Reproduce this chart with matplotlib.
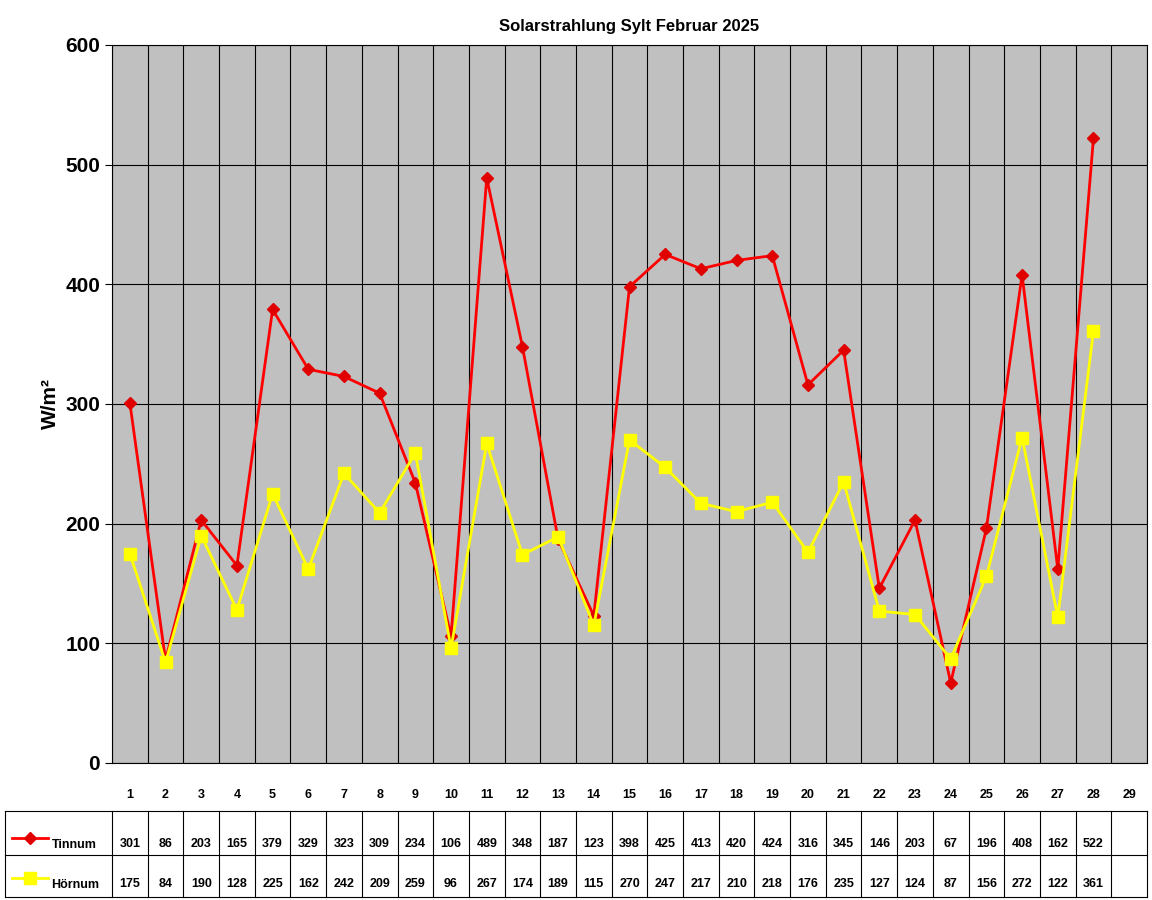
import matplotlib
matplotlib.use("Agg")
import matplotlib.pyplot as plt
from matplotlib.transforms import blended_transform_factory
from matplotlib.lines import Line2D

plt.rcParams["font.family"] = ["Liberation Sans", "DejaVu Sans"]

days = list(range(1, 30))
tinnum = [301, 86, 203, 165, 379, 329, 323, 309, 234, 106, 489, 348, 187, 123, 398,
          425, 413, 420, 424, 316, 345, 146, 203, 67, 196, 408, 162, 522]
hoernum = [175, 84, 190, 128, 225, 162, 242, 209, 259, 96, 267, 174, 189, 115, 270,
           247, 217, 210, 218, 176, 235, 127, 124, 87, 156, 272, 122, 361]
series = [("Tinnum", tinnum, "#FF0000", "#E00000", "D", 6),
          ("Hörnum", hoernum, "#FFFF00", "#FFFF00", "s", 8)]

fig = plt.figure(figsize=(11.52, 9), dpi=100)
W, H = 1152, 900
ax = fig.add_axes([112 / W, 1 - 763 / H, 1035 / W, 718 / H])
ax.set_facecolor("#C0C0C0")
n = len(days)
ax.set_xlim(0.5, n + 0.5)
ax.set_ylim(0, 600)
ax.set_yticks(range(0, 601, 100))
ax.tick_params(axis="y", labelsize=15, length=5)
for t in ax.get_yticklabels():
    t.set_fontweight("bold")
ax.set_xticks([])
ax.grid(axis="y", color="black", linewidth=0.8)
for b in range(n + 1):
    ax.axvline(b + 0.5, color="black", linewidth=0.8)
ax.set_ylabel("W/m²", fontsize=15, fontweight="bold")
ax.set_title("Solarstrahlung Sylt Februar 2025", fontsize=12, fontweight="bold", pad=10)

for name, vals, lc, mc, mk, ms in series:
    x = days[:len(vals)]
    ax.plot(x, vals, color=lc, linewidth=2, marker=mk, markersize=ms,
            markerfacecolor=mc, markeredgecolor=mc, zorder=3)

# Tabelle unter der Achse
tr = blended_transform_factory(ax.transData, fig.transFigure)
def fy(py):
    return 1 - py / H

for d in days:
    ax.text(d, fy(795), str(d), transform=tr, ha="center", va="center",
            fontsize=9, fontweight="bold")
x_left = 0.5 - (112 - 5) / (1035 / n)
for py in (811, 855, 897):
    ax.add_line(Line2D([x_left, n + 0.5], [fy(py), fy(py)], transform=tr,
                       color="black", linewidth=0.8, clip_on=False))
for xb in [x_left] + [b + 0.5 for b in range(n + 1)]:
    ax.add_line(Line2D([xb, xb], [fy(811), fy(897)], transform=tr,
                       color="black", linewidth=0.8, clip_on=False))
row_y = [845, 885]
for (name, vals, lc, mc, mk, ms), py in zip(series, row_y):
    ax.add_line(Line2D([x_left + 0.2, x_left + 1.2], [fy(py - 7), fy(py - 7)], transform=tr,
                       color=lc, linewidth=2, clip_on=False))
    ax.add_line(Line2D([x_left + 0.7], [fy(py - 7)], transform=tr, marker=mk,
                       markersize=ms, color=mc, linestyle="none", clip_on=False))
    ax.text(x_left + 1.3, fy(py), name, transform=tr, ha="left", va="center",
            fontsize=9, fontweight="bold")
    for d, v in zip(days, vals):
        ax.text(d, fy(py - 1), str(v), transform=tr, ha="center", va="center",
                fontsize=9, fontweight="bold")

fig.savefig("out.png")
